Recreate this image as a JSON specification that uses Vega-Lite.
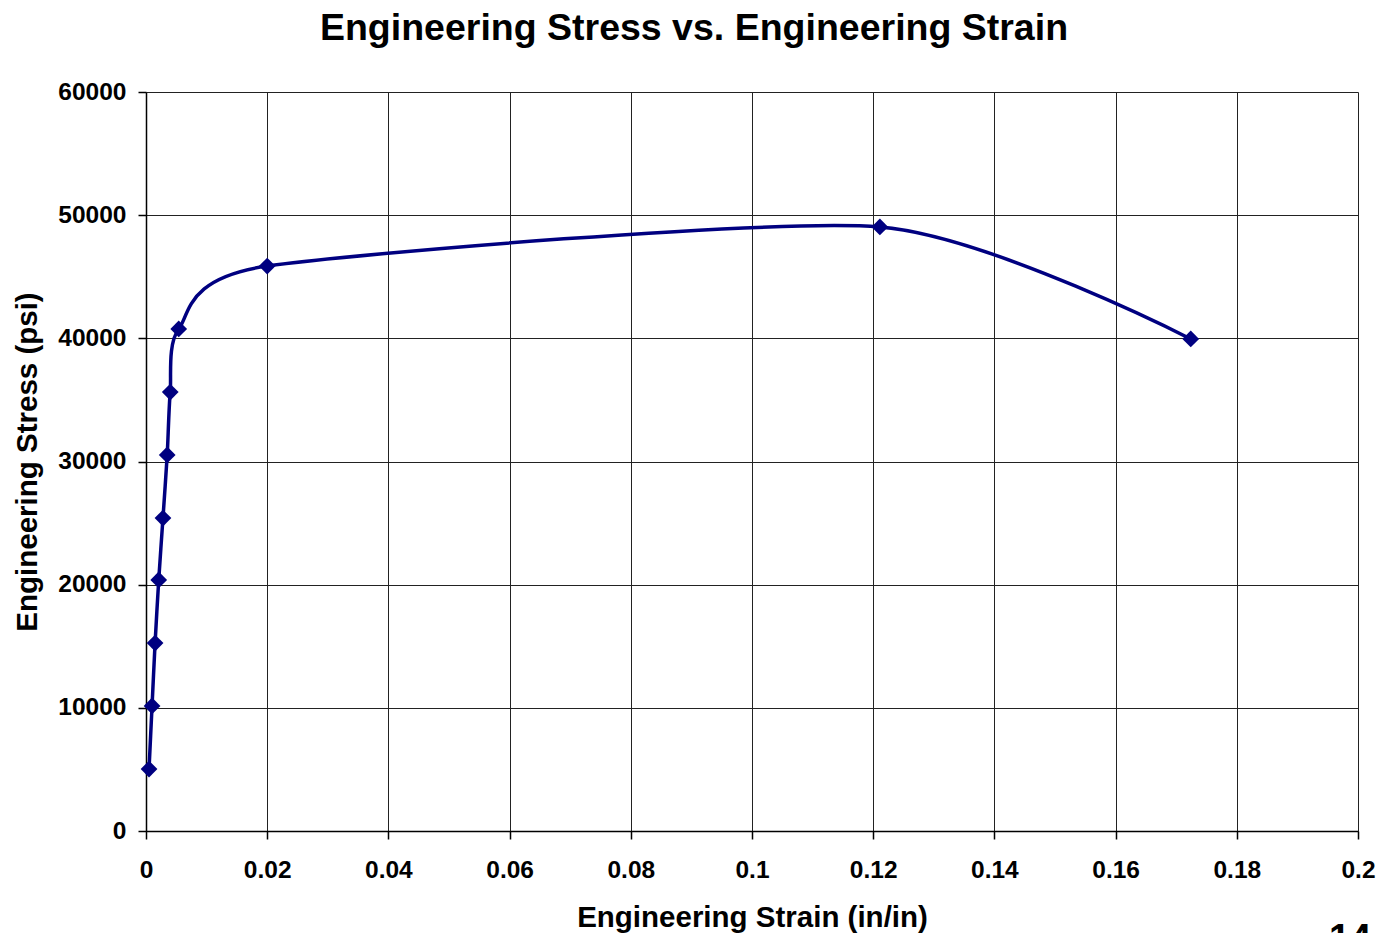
{
  "$schema": "https://vega.github.io/schema/vega-lite/v6.json",
  "width": 1212,
  "height": 739,
  "autosize": {"type": "none"},
  "padding": {"left": 146, "top": 92, "right": 29, "bottom": 102},
  "background": "white",
  "title": {
    "text": "Engineering Stress vs. Engineering Strain",
    "font": "Liberation Sans",
    "fontSize": 37.5,
    "fontWeight": "bold",
    "color": "#000000",
    "anchor": "middle",
    "dx": -58,
    "offset": 32
  },
  "datasets": {
    "curve": [
      {"strain": 0.0005, "stress": 5030},
      {"strain": 0.001, "stress": 10150},
      {"strain": 0.0015, "stress": 15260},
      {"strain": 0.0021, "stress": 20380},
      {"strain": 0.0028, "stress": 25410},
      {"strain": 0.0035, "stress": 30530},
      {"strain": 0.004, "stress": 35640},
      {"strain": 0.0054, "stress": 40760},
      {"strain": 0.02, "stress": 45870},
      {"strain": 0.1211, "stress": 49040},
      {"strain": 0.1724, "stress": 39950}
    ],
    "page": [
      {"strain": 0.1987, "stress": -7300, "label": "14"}
    ]
  },
  "config": {
    "view": {"stroke": null},
    "axis": {
      "labelFont": "Liberation Sans",
      "labelFontWeight": "bold",
      "labelFontSize": 24.5,
      "labelColor": "#000000",
      "labelFlush": false,
      "titleFont": "Liberation Sans",
      "titleFontWeight": "bold",
      "titleFontSize": 29.5,
      "titleColor": "#000000",
      "domainColor": "#000000",
      "domainWidth": 1.5,
      "tickColor": "#000000",
      "tickWidth": 1.5,
      "tickSize": 8,
      "gridColor": "#222222",
      "gridWidth": 1,
      "gridOpacity": 1
    }
  },
  "layer": [
    {
      "data": {"name": "curve"},
      "mark": {"type": "line", "interpolate": "cardinal", "tension": 0.3, "color": "#000080", "strokeWidth": 3.5},
      "encoding": {
        "x": {
          "field": "strain",
          "type": "quantitative",
          "scale": {"domain": [0, 0.2], "nice": false, "zero": true},
          "axis": {
            "title": "Engineering Strain (in/in)",
            "values": [0, 0.02, 0.04, 0.06, 0.08, 0.1, 0.12, 0.14, 0.16, 0.18, 0.2],
            "format": "~g",
            "labelPadding": 19,
            "titlePadding": 22,
            "grid": true
          }
        },
        "y": {
          "field": "stress",
          "type": "quantitative",
          "scale": {"domain": [0, 60000], "nice": false},
          "axis": {
            "title": "Engineering Stress (psi)",
            "values": [0, 10000, 20000, 30000, 40000, 50000, 60000],
            "format": "d",
            "labelPadding": 12,
            "titlePadding": 15,
            "grid": true
          }
        }
      }
    },
    {
      "data": {"name": "curve"},
      "mark": {"type": "point", "shape": "diamond", "filled": true, "color": "#000080", "size": 280, "opacity": 1},
      "encoding": {
        "x": {"field": "strain", "type": "quantitative"},
        "y": {"field": "stress", "type": "quantitative"}
      }
    },
    {
      "data": {"name": "page"},
      "mark": {"type": "text", "font": "Liberation Sans", "fontWeight": "bold", "fontSize": 38, "baseline": "top", "align": "center", "color": "#000000"},
      "encoding": {
        "x": {"field": "strain", "type": "quantitative"},
        "y": {"field": "stress", "type": "quantitative"},
        "text": {"field": "label"}
      }
    }
  ]
}
